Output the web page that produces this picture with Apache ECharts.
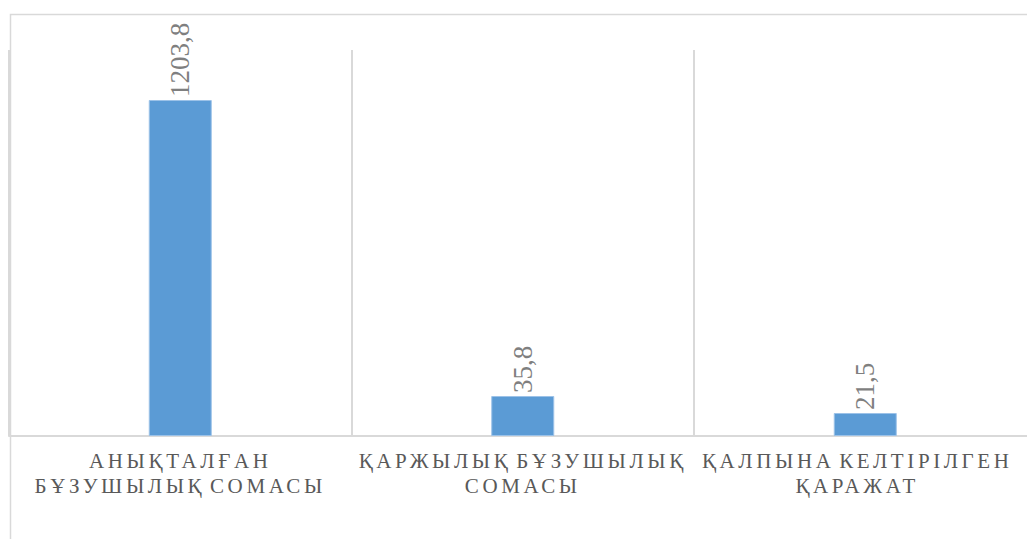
<!DOCTYPE html>
<html>
<head>
<meta charset="utf-8">
<script src="https://cdn.jsdelivr.net/npm/echarts@6/dist/echarts.min.js"></script>
<style>
  html, body { margin: 0; padding: 0; background: #ffffff; }
  #chart { width: 1027px; height: 539px; }
</style>
</head>
<body>
<div id="chart"></div>
<script>
// Category names (two-line labels as in the picture)
const categories = [
  'АНЫҚТАЛҒАН\nБҰЗУШЫЛЫҚ СОМАСЫ',
  'ҚАРЖЫЛЫҚ БҰЗУШЫЛЫҚ\nСОМАСЫ',
  'ҚАЛПЫНА КЕЛТІРІЛГЕН\nҚАРАЖАТ'
];
// Values printed in the data labels
const labelValues = [1203.8, 35.8, 21.5];
// Bar heights as drawn in the picture (read relative to the first bar; the
// original chart does not draw bars proportional to their printed labels)
const barHeights = [1203.8, 143.3, 82.4];
// Top of the (hidden) value axis
const yMax = 1383;

// The last label is pushed left by the chart edge in the original
const labelRightPad = [0, 0, 16];

const chart = echarts.init(document.getElementById('chart'), null, { renderer: 'svg' });

chart.setOption({
  animation: false,
  backgroundColor: '#ffffff',
  graphic: [{
    type: 'rect',
    left: 8, top: 12,
    shape: { width: 1100, height: 600 },
    style: { fill: 'none', stroke: '#d9d9d9', lineWidth: 1.5 },
    silent: true, z: -1
  }],
  grid: { left: 9, top: 50, width: 1027.5, height: 386, containLabel: false, outerBoundsMode: 'none' },
  xAxis: {
    type: 'category',
    data: categories.map((c, i) => ({ value: c, textStyle: { padding: [0, labelRightPad[i], 0, 0] } })),
    axisLine: { show: true, lineStyle: { color: '#d9d9d9', width: 2 } },
    axisTick: { show: false },
    splitLine: { show: true, interval: 0, lineStyle: { color: '#d9d9d9', width: 2 } },
    axisLabel: {
      interval: 0,
      margin: 13,
      color: '#595959',
      fontFamily: 'Liberation Serif',
      fontSize: 21,
      lineHeight: 24.5
    }
  },
  yAxis: {
    type: 'value',
    min: 0,
    max: yMax,
    show: false,
    splitLine: { show: false }
  },
  series: [{
    type: 'bar',
    data: barHeights,
    barWidth: 63,
    itemStyle: { color: '#5b9bd5', borderColor: '#9cc2e8', borderWidth: 1 },
    label: {
      show: true,
      position: 'top',
      rotate: 90,
      align: 'left',
      verticalAlign: 'middle',
      distance: 3,
      color: '#7f7f7f',
      fontFamily: 'Liberation Serif',
      fontSize: 27,
      formatter: p => labelValues[p.dataIndex].toFixed(1).replace('.', ',')
    }
  }]
});

// Category labels in the picture are letter-spaced
function spaceCategoryLabels() {
  const lines = new Set();
  categories.forEach(c => c.split('\n').forEach(l => lines.add(l)));
  const apply = el => {
    el.style.letterSpacing = '3.6px';
    el.style.wordSpacing = '-4px';
  };
  document.querySelectorAll('#chart text').forEach(t => {
    if (lines.has(t.textContent.trim())) apply(t);
    t.querySelectorAll('tspan').forEach(ts => {
      if (lines.has(ts.textContent.trim())) apply(ts);
    });
  });
}
chart.on('finished', spaceCategoryLabels);
setTimeout(spaceCategoryLabels, 50);
</script>
</body>
</html>
